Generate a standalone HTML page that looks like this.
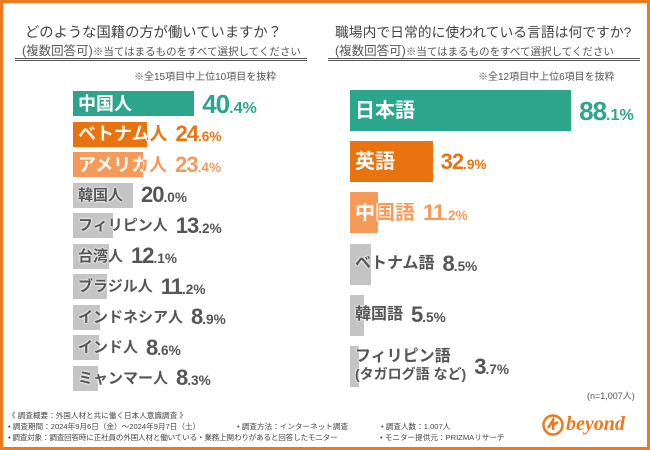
<!DOCTYPE html>
<html><head><meta charset="utf-8">
<style>
*{margin:0;padding:0;box-sizing:border-box}
body{width:650px;height:450px;overflow:hidden;background:#fff;font-family:"Liberation Sans","Noto Sans CJK JP",sans-serif;color:#444}
#frame{position:absolute;left:0;top:0;width:650px;height:450px;border:3px solid #ec7a1c}
.abs{position:absolute;white-space:nowrap}
.title{color:#444}
.sub{font-size:12.5px;color:#555}
.sub small{font-size:10.5px}
.rule{position:absolute;height:3px;border-top:1px solid #555;border-bottom:1px solid #555}
.note{font-size:10px;color:#555}
.bar{position:absolute}
.lbl{position:absolute;font-weight:bold;white-space:nowrap;line-height:1}
.val{position:absolute;font-weight:bold;white-space:nowrap;line-height:1;letter-spacing:-1px}
.val span{font-size:62%;letter-spacing:0}
.foot{font-size:7.6px;color:#444}
</style></head><body>
<div id="frame"></div>

<div class="abs title" style="left:25px;top:21px;font-size:14.3px">どのような国籍の方が働いていますか？</div>
<div class="abs sub" style="left:22px;top:40px">(複数回答可)<small>※当てはまるものをすべて選択してください</small></div>
<div class="rule" style="left:15px;top:58px;width:292px"></div>
<div class="abs note" style="left:134px;top:68px">※全15項目中上位10項目を抜粋</div>

<div class="abs title" style="left:335px;top:21px;font-size:13.8px">職場内で日常的に使われている言語は何ですか?</div>
<div class="abs sub" style="left:335px;top:40px">(複数回答可)<small>※当てはまるものをすべて選択してください</small></div>
<div class="rule" style="left:328px;top:58px;width:312px"></div>
<div class="abs note" style="left:478px;top:68px">※全12項目中上位6項目を抜粋</div>

<div class="abs note" style="left:587px;top:389px;font-size:9px">(n=1,007人)</div>

<div class="abs foot" style="left:8px;top:410px">《 調査概要：外国人材と共に働く日本人意識調査 》</div>
<div class="abs foot" style="left:8px;top:421px">• 調査期間：2024年9月6日（金）～2024年9月7日（土）</div>
<div class="abs foot" style="left:237px;top:421px">• 調査方法：インターネット調査</div>
<div class="abs foot" style="left:381px;top:421px">• 調査人数：1,007人</div>
<div class="abs foot" style="left:8px;top:432px;letter-spacing:-0.2px">• 調査対象：調査回答時に正社員の外国人材と働いている・業務上関わりがあると回答したモニター</div>
<div class="abs foot" style="left:380px;top:432px">• モニター提供元：PRIZMAリサーチ</div>

<svg class="abs" style="left:542px;top:414px" width="22" height="22" viewBox="0 0 22 22">
<circle cx="11" cy="11" r="9.5" fill="none" stroke="#ec7a1c" stroke-width="2.5"/>
<path d="M6 14 L11 6 L11 16 M11 11 L16 8" stroke="#ec7a1c" stroke-width="2.5" fill="none"/>
</svg>
<div class="abs" style="left:566px;top:413px;font-size:20px;font-weight:bold;font-style:italic;color:#ec7a1c;font-family:'Liberation Serif',serif">beyond</div>

<div id="charts"></div>

<script>
const leftCats=["中国人","ベトナム人","アメリカ人","韓国人","フィリピン人","台湾人","ブラジル人","インドネシア人","インド人","ミャンマー人"];
const leftVals=[40.4,24.6,23.4,20.0,13.2,12.1,11.2,8.9,8.6,8.3];
const rightCats=["日本語","英語","中国語","ベトナム語","韓国語","フィリピン語"];
const rightVals=[88.1,32.9,11.2,8.5,5.5,3.7];

const teal="#2ba58c",orange="#e8730f",lorange="#f69a5a",gray="#c4c4c4";
const root=document.getElementById('charts');

function drawChart(cats,vals,opt){
  const xs=v=>opt.x0+v*opt.scale;
  const ys=i=>opt.y0+i*opt.pitch;
  cats.forEach((c,i)=>{
    const v=vals[i];
    const color=i===0?teal:i===1?orange:i===2?lorange:gray;
    const tcolor=i===0?teal:i===1?orange:i===2?lorange:"#555";
    const b=document.createElement('div');
    b.className='bar';
    
    
    b.style.left=opt.x0+'px';b.style.top=ys(i)+'px';
    b.style.width=(xs(v)-opt.x0)+'px';b.style.height=opt.h+'px';
    b.style.background=color;
    root.appendChild(b);
    const l=document.createElement('div');
    l.className='lbl';
    
    
    const fs=i<3?opt.fsTop:opt.fs;
    l.style.fontSize=fs+'px';
    l.style.left=(opt.x0+5)+'px';
    l.style.color=i<3?'#fff':'#555';
    if(i>=3) l.style.textShadow='0 0 2px #fff,0 0 2px #fff';
    if(opt.side==='right'&&i===5){
      l.innerHTML='フィリピン語<br><span style="font-size:14px">(タガログ語 など)</span>';
      l.style.lineHeight='1.15';
      l.style.top=(ys(i)+opt.h/2-19)+'px';
    } else {
      l.textContent=c;
      l.style.top=(ys(i)+opt.h/2-fs/2)+'px';
    }
    root.appendChild(l);
    const lw=l.getBoundingClientRect().width;
    const end=Math.max(xs(v),opt.x0+5+lw);
    if(i>0&&i<3&&opt.x0+5+lw>xs(v)){
      const cut=(xs(v)-opt.x0-5)+'px';
      l.style.background='linear-gradient(90deg,#fff 0,#fff '+cut+','+tcolor+' '+cut+')';
      l.style.webkitBackgroundClip='text';l.style.backgroundClip='text';l.style.color='transparent';
    }
    const s=document.createElement('div');
    s.className='val';
    
    
    const vf=i===0?opt.vfTop:opt.vf;
    s.style.fontSize=vf+'px';
    s.style.color=tcolor;
    s.style.left=(end+opt.gap)+'px';
    s.style.top=(ys(i)+opt.h/2-vf*0.5)+'px';
    const str=v.toFixed(1);const p=str.indexOf('.');
    s.innerHTML=str.slice(0,p)+'<span>'+str.slice(p)+'%</span>';
    root.appendChild(s);
  });
}
drawChart(leftCats,leftVals,{side:'left',x0:73,scale:3.0,y0:91,pitch:30.5,h:25,fs:15,fsTop:18,vf:22,vfTop:26,gap:8});
drawChart(rightCats,rightVals,{side:'right',x0:350,scale:2.51,y0:90,pitch:51.2,h:41,fs:16,fsTop:20,vf:22,vfTop:26,gap:8});
</script>
</body></html>
